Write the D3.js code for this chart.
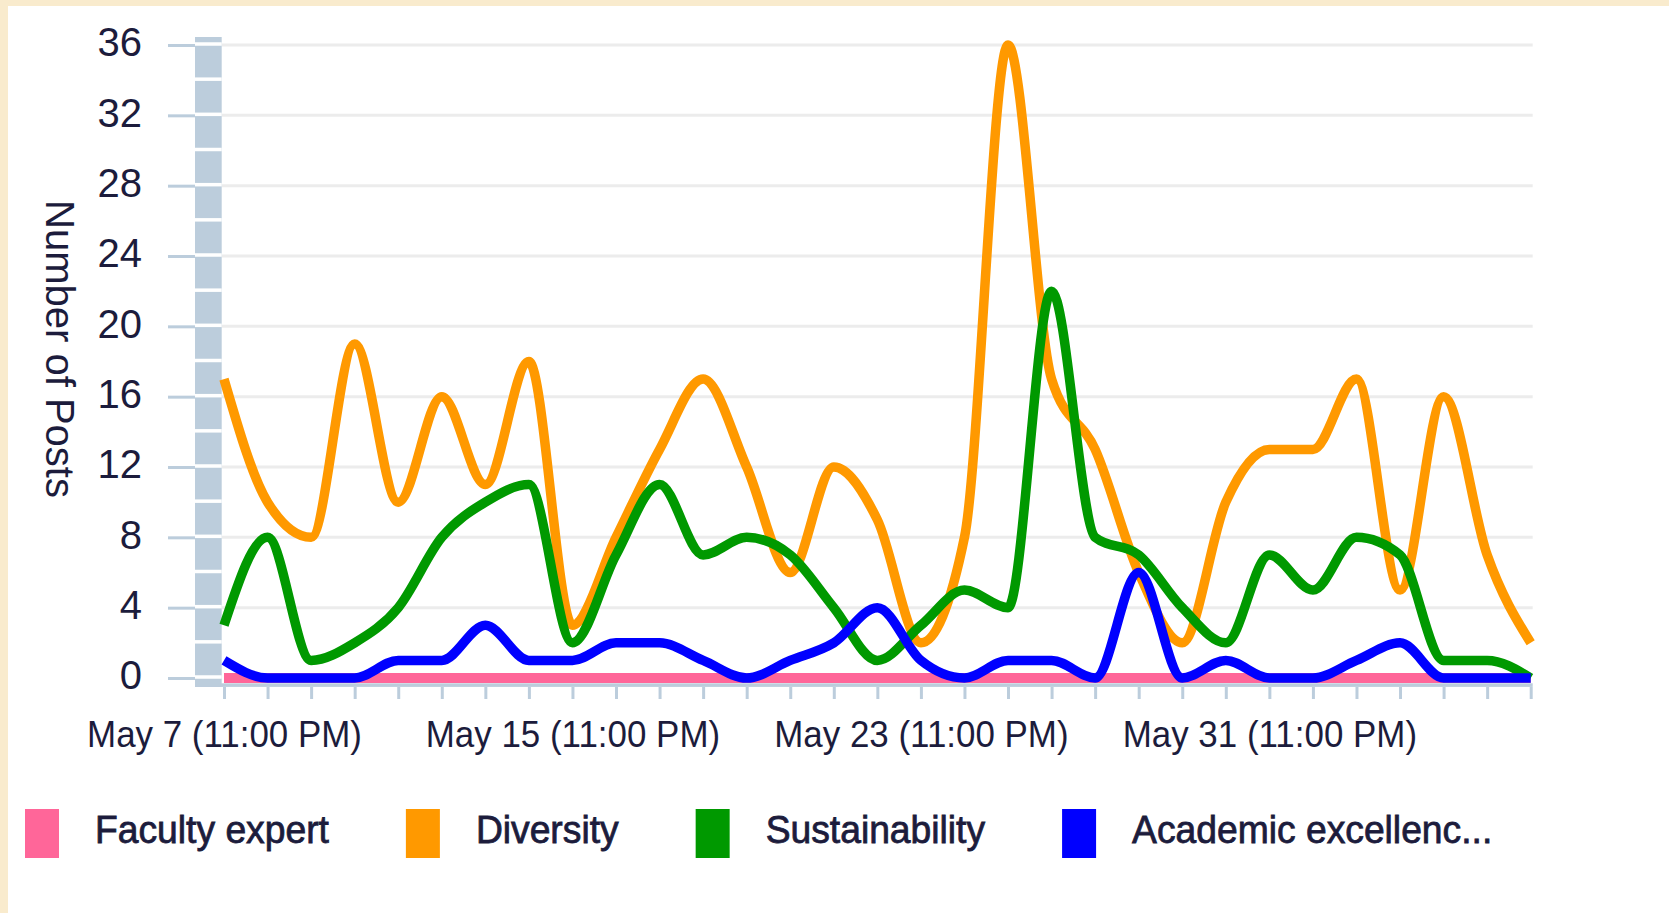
<!DOCTYPE html>
<html>
<head>
<meta charset="utf-8">
<title>Number of Posts</title>
<script src="https://d3js.org/d3.v7.min.js"></script>
<style>
  body { margin: 0; background: #fff; }
  svg { display: block; font-family: "Liberation Sans", Arial, sans-serif; }
</style>
</head>
<body>
<script>
// days on the x axis (each point is 11:00 PM of that day)
var categories = ["May 7", "May 8", "May 9", "May 10", "May 11", "May 12", "May 13", "May 14",
  "May 15", "May 16", "May 17", "May 18", "May 19", "May 20", "May 21", "May 22",
  "May 23", "May 24", "May 25", "May 26", "May 27", "May 28", "May 29", "May 30",
  "May 31", "Jun 1", "Jun 2", "Jun 3", "Jun 4", "Jun 5", "Jun 6"];
var labeledDays = ["May 7", "May 15", "May 23", "May 31"];
var tickLabels = ["May 7 (11:00 PM)", "May 15 (11:00 PM)", "May 23 (11:00 PM)", "May 31 (11:00 PM)"];
var yTicks = [0, 4, 8, 12, 16, 20, 24, 28, 32, 36];

var seriesNames = ["Faculty expert", "Diversity", "Sustainability", "Academic excellenc..."];
var seriesColors = ["#ff6699", "#ff9900", "#009900", "#0000ff"];

var facultyExpert = [0,0,0,0,0,0,0,0,0,0,0,0,0,0,0,0,0,0,0,0,0,0,0,0,0,0,0,0,0,0,0];
var diversity = [17,10,8,19,10,16,11,18,3,8,13,17,12,6,12,9,2,8,36,17,13,6,2,10,13,13,17,5,16,7,2];
var sustainability = [3,8,1,2,4,8,10,11,2,7,11,7,8,7,4,1,3,5,4,22,8,7,4,2,7,5,8,7,1,1,0];
var academicExcellence = [1,0,0,0,1,1,3,1,1,2,2,1,0,1,2,4,1,0,1,1,0,6,0,1,0,0,1,2,0,0,0];

var seriesValues = [facultyExpert, diversity, sustainability, academicExcellence];

var W = 1669, H = 913;
var textColor = "#1c1c3c", axisColor = "#bccddc";

var svg = d3.select("body").append("svg")
    .attr("width", W)
    .attr("height", H);

// beige frame on top and left
svg.append("rect").attr("x", 0).attr("y", 0).attr("width", W).attr("height", 6).attr("fill", "#f9ebcd");
svg.append("rect").attr("x", 0).attr("y", 0).attr("width", 8).attr("height", H).attr("fill", "#f9ebcd");

var x = d3.scalePoint().domain(categories).range([224, 1530.7]);
var y = d3.scaleLinear().domain([0, 36]).range([678, 45]);

// squeeze text a bit horizontally
function squeeze(sel, k) {
  sel.each(function() {
    var n = this.getComputedTextLength();
    if (n > 0) d3.select(this).attr("textLength", n * k).attr("lengthAdjust", "spacingAndGlyphs");
  });
}

// gridlines
svg.append("g").selectAll("line")
    .data(yTicks.filter(function(d) { return d > 0; }))
  .join("line")
    .attr("x1", 222).attr("x2", 1532.7)
    .attr("y1", function(d) { return y(d); })
    .attr("y2", function(d) { return y(d); })
    .attr("stroke", "#ececec")
    .attr("stroke-width", 3);

// y axis band with white separators every 2 posts
svg.append("rect")
    .attr("x", 195).attr("y", y(36) - 8)
    .attr("width", 26.7).attr("height", 687 - (y(36) - 8))
    .attr("fill", axisColor);
svg.append("g").selectAll("line")
    .data(d3.range(0, 37, 2))
  .join("line")
    .attr("x1", 195).attr("x2", 221.7)
    .attr("y1", function(d) { return y(d) - 1; })
    .attr("y2", function(d) { return y(d) - 1; })
    .attr("stroke", "#fff")
    .attr("stroke-width", 3.5);

// y axis ticks + labels
var yAxis = svg.append("g")
    .attr("transform", "translate(195,0)")
    .call(d3.axisLeft(y).tickValues(yTicks).tickSize(27).tickPadding(26));
yAxis.select(".domain").remove();
yAxis.selectAll("line").attr("stroke", axisColor).attr("stroke-width", 3);
yAxis.selectAll("text")
    .attr("dy", "0.27em")
    .attr("fill", textColor)
    .style("font-size", "40px");

// x axis line
svg.append("rect")
    .attr("x", 195).attr("y", 683.3)
    .attr("width", 1532.7 - 195).attr("height", 3.6)
    .attr("fill", axisColor);

var xAxis = svg.append("g")
    .attr("transform", "translate(0,687)")
    .call(d3.axisBottom(x).tickValues(categories).tickSize(12)
      .tickFormat(function(d) {
        var i = labeledDays.indexOf(d);
        return i < 0 ? "" : tickLabels[i];
      }));
xAxis.select(".domain").remove();
xAxis.selectAll("line").attr("stroke", axisColor).attr("stroke-width", 3);
xAxis.selectAll("text")
    .attr("y", 60).attr("dy", 0)
    .attr("fill", textColor)
    .style("font-size", "36px")
    .call(squeeze, 0.97);

// y axis title
svg.append("text")
    .attr("transform", "translate(46,349) rotate(90)")
    .attr("text-anchor", "middle")
    .attr("fill", textColor)
    .style("font-size", "40px")
    .text("Number of Posts");

// lines
var line = d3.line()
    .x(function(d, i) { return x(categories[i]); })
    .y(function(d) { return y(d); })
    .curve(d3.curveMonotoneX);

svg.append("g").selectAll("path")
    .data(seriesValues)
  .join("path")
    .attr("d", line)
    .attr("fill", "none")
    .attr("stroke", function(d, i) { return seriesColors[i]; })
    .attr("stroke-width", function(d, i) { return i === 0 ? 10 : 9.5; });

// legend
var lx = 25;
seriesNames.forEach(function(name, i) {
  svg.append("rect")
      .attr("x", lx).attr("y", 809)
      .attr("width", 34).attr("height", 49)
      .attr("fill", seriesColors[i]);
  var t = svg.append("text")
      .attr("x", lx + 70).attr("y", 843)
      .attr("fill", textColor)
      .attr("stroke", textColor)
      .attr("stroke-width", 0.8)
      .style("font-size", "38px")
      .text(name);
  t.call(squeeze, 0.98);
  lx = lx + 70 + (+t.attr("textLength")) + 77;
});
</script>
</body>
</html>
